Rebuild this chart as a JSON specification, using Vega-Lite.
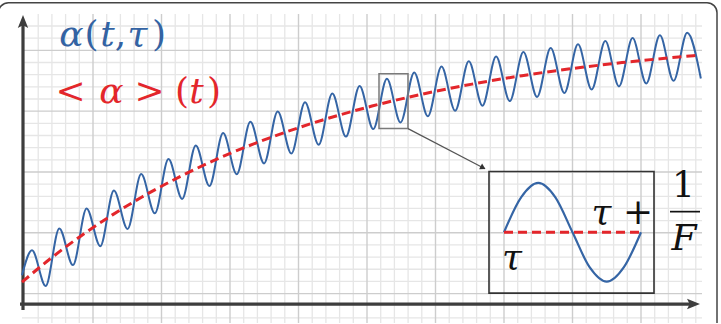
{
  "$schema": "https://vega.github.io/schema/vega-lite/v6.json",
  "width": 721,
  "height": 324,
  "autosize": {"type": "fit", "contains": "padding"},
  "padding": 0,
  "background": "white",
  "config": {"view": {"stroke": null}},
  "datasets": {
    "vminor": [{"t":16.2},{"t":29.9},{"t":43.6},{"t":57.3},{"t":84.7},{"t":98.4},{"t":112.1},{"t":125.8},{"t":153.2},{"t":166.9},{"t":180.6},{"t":194.3},{"t":221.7},{"t":235.4},{"t":249.1},{"t":262.8},{"t":290.2},{"t":303.9},{"t":317.6},{"t":331.3},{"t":358.7},{"t":372.4},{"t":386.1},{"t":399.8},{"t":427.2},{"t":440.9},{"t":454.6},{"t":468.3},{"t":495.7},{"t":509.4},{"t":523.1},{"t":536.8},{"t":564.2},{"t":577.9},{"t":591.6},{"t":605.3},{"t":632.7},{"t":646.4},{"t":660.1},{"t":673.8}],
    "vmajor": [{"t":71},{"t":139.5},{"t":208},{"t":276.5},{"t":345},{"t":413.5},{"t":482},{"t":550.5},{"t":619}],
    "hminor": [{"a":-13.9},{"a":22.7},{"a":34.9},{"a":47.1},{"a":59.3},{"a":83.7},{"a":95.9},{"a":108.1},{"a":120.3},{"a":144.7},{"a":156.9},{"a":169.1},{"a":181.3},{"a":205.7},{"a":217.9},{"a":230.1},{"a":242.3},{"a":266.7},{"a":278.9}],
    "hmajor": [{"a":10.5},{"a":71.5},{"a":132.5},{"a":193.5},{"a":254.5}],
    "axes": [{"t":1,"t2":1,"a":-6,"a2":281},{"t":-2,"t2":672,"a":0,"a2":0}],
    "uparrow": [{"t":1,"a":283.5}],
    "rightarrow": [{"t":671.5,"a":0}],
    "frame": [{"t":-23.5,"t2":695,"a":-40,"a2":302.3}],
    "wave": [{"t":0,"a":29},{"t":10,"a":54.0},{"t":23.65,"a":18.2},{"t":37.3,"a":75.9},{"t":50.95,"a":39.1},{"t":64.6,"a":95.8},{"t":78.25,"a":58.1},{"t":91.9,"a":113.9},{"t":105.55,"a":75.4},{"t":119.2,"a":130.4},{"t":132.85,"a":91.1},{"t":146.5,"a":145.4},{"t":160.15,"a":105.4},{"t":173.8,"a":159.1},{"t":187.45,"a":118.5},{"t":201.1,"a":171.5},{"t":214.75,"a":130.3},{"t":228.4,"a":182.9},{"t":242.05,"a":141.1},{"t":255.7,"a":193.2},{"t":269.35,"a":151.0},{"t":283,"a":202.5},{"t":296.65,"a":159.9},{"t":310.3,"a":211.1},{"t":323.95,"a":168.0},{"t":337.6,"a":218.8},{"t":351.25,"a":175.5},{"t":364.9,"a":225.9},{"t":378.55,"a":182.2},{"t":392.2,"a":232.3},{"t":405.85,"a":188.3},{"t":419.5,"a":238.2},{"t":433.15,"a":193.9},{"t":446.8,"a":243.5},{"t":460.45,"a":199.0},{"t":474.1,"a":248.4},{"t":487.75,"a":203.6},{"t":501.4,"a":252.8},{"t":515.05,"a":207.8},{"t":528.7,"a":256.8},{"t":542.35,"a":211.7},{"t":556,"a":260.5},{"t":569.65,"a":215.2},{"t":583.3,"a":263.8},{"t":596.95,"a":218.3},{"t":610.6,"a":266.8},{"t":624.25,"a":221.2},{"t":637.9,"a":269.6},{"t":651.55,"a":223.9},{"t":665.2,"a":272.1},{"t":678.85,"a":226.3}],
    "mean": [{"t":0,"a":22},{"t":30,"a":46.8},{"t":60,"a":69.1},{"t":90,"a":89.2},{"t":120,"a":107.4},{"t":160,"a":128.8},{"t":200,"a":147.6},{"t":250,"a":167.6},{"t":300,"a":184.4},{"t":350,"a":198.6},{"t":400,"a":210.5},{"t":450,"a":220.6},{"t":500,"a":229.1},{"t":550,"a":236.2},{"t":600,"a":242.2},{"t":650,"a":247.2},{"t":676,"a":249.5}],
    "zoombox": [{"t":357,"t2":386,"a":176,"a2":231}],
    "connector": [{"t":386,"t2":463,"a":176,"a2":135.7}],
    "connhead": [{"t":461,"a":136.8}],
    "insetbox": [{"t":467,"t2":632,"a":11,"a2":133}],
    "insetwave": [{"t":482,"a":72},{"t":499.1,"a":107},{"t":516.25,"a":121.5},{"t":533.4,"a":107},{"t":550.5,"a":72},{"t":567.6,"a":37},{"t":584.75,"a":22.5},{"t":601.9,"a":37},{"t":619,"a":72}],
    "insetmean": [{"t":482,"t2":619,"a":72}],
    "fracbar": [{"t":648,"t2":678,"a":92.7}],
    "italic": [{"label":"α","t":49.5,"a":259,"series":"wave"},{"label":"t","t":85.5,"a":259,"series":"wave"},{"label":"τ","t":115.5,"a":259,"series":"wave"},{"label":"α","t":89.5,"a":202,"series":"mean"},{"label":"t","t":174.5,"a":202,"series":"mean"},{"label":"τ","t":490,"a":35,"series":"inset"},{"label":"τ","t":579.5,"a":80,"series":"inset"},{"label":"F","t":662,"a":54,"series":"inset"}],
    "upright": [{"label":"(","t":69.5,"a":259,"series":"wave"},{"label":",","t":98.5,"a":259,"series":"wave"},{"label":")","t":137,"a":259,"series":"wave"},{"label":"<","t":48.5,"a":202,"series":"mean"},{"label":">","t":127.5,"a":202,"series":"mean"},{"label":"(","t":160,"a":202,"series":"mean"},{"label":")","t":192,"a":202,"series":"mean"},{"label":"+","t":616,"a":80,"series":"inset"},{"label":"1","t":661.5,"a":107,"series":"inset"}]
  },
  "layer": [
    {"data": {"name": "vminor"}, "mark": {"type": "rule", "stroke": "#e6e6e6", "strokeWidth": 1.3},
     "encoding": {
       "x": {"field": "t", "type": "quantitative", "scale": {"domain": [-22, 699], "nice": false, "zero": false}, "axis": null},
       "y": {"datum": -19, "type": "quantitative", "scale": {"domain": [-19, 305], "nice": false, "zero": false}, "axis": null},
       "y2": {"datum": 291}}},
    {"data": {"name": "hminor"}, "mark": {"type": "rule", "stroke": "#e6e6e6", "strokeWidth": 1.3},
     "encoding": {
       "x": {"datum": 0, "type": "quantitative", "axis": null},
       "x2": {"datum": 680},
       "y": {"field": "a", "type": "quantitative", "axis": null}}},
    {"data": {"name": "vmajor"}, "mark": {"type": "rule", "stroke": "#cdcdcd", "strokeWidth": 1.4},
     "encoding": {
       "x": {"field": "t", "type": "quantitative", "axis": null},
       "y": {"datum": -19, "type": "quantitative", "axis": null},
       "y2": {"datum": 291}}},
    {"data": {"name": "hmajor"}, "mark": {"type": "rule", "stroke": "#cdcdcd", "strokeWidth": 1.4},
     "encoding": {
       "x": {"datum": 0, "type": "quantitative", "axis": null},
       "x2": {"datum": 680},
       "y": {"field": "a", "type": "quantitative", "axis": null}}},
    {"data": {"name": "frame"}, "mark": {"type": "rect", "fillOpacity": 0, "stroke": "#444444", "strokeWidth": 1.5, "cornerRadius": 10, "clip": true},
     "encoding": {"x": {"field": "t", "type": "quantitative", "axis": null}, "x2": {"field": "t2"}, "y": {"field": "a", "type": "quantitative", "axis": null}, "y2": {"field": "a2"}}},
    {"data": {"name": "axes"}, "mark": {"type": "rule", "stroke": "#3d3d3d", "strokeWidth": 3.2},
     "encoding": {"x": {"field": "t", "type": "quantitative", "axis": null}, "x2": {"field": "t2"}, "y": {"field": "a", "type": "quantitative", "axis": null}, "y2": {"field": "a2"}}},
    {"data": {"name": "uparrow"}, "mark": {"type": "point", "shape": "M0,-1L0.8,1L0,0.6L-0.8,1Z", "size": 169, "filled": true, "color": "#3d3d3d", "opacity": 1},
     "encoding": {"x": {"field": "t", "type": "quantitative", "axis": null}, "y": {"field": "a", "type": "quantitative", "axis": null}}},
    {"data": {"name": "rightarrow"}, "mark": {"type": "point", "shape": "M1,0L-1,0.8L-0.6,0L-1,-0.8Z", "size": 169, "filled": true, "color": "#3d3d3d", "opacity": 1},
     "encoding": {"x": {"field": "t", "type": "quantitative", "axis": null}, "y": {"field": "a", "type": "quantitative", "axis": null}}},
    {"data": {"name": "wave"}, "mark": {"type": "line", "interpolate": "monotone", "stroke": "#3565a5", "strokeWidth": 2},
     "encoding": {"x": {"field": "t", "type": "quantitative", "axis": null}, "y": {"field": "a", "type": "quantitative", "axis": null}}},
    {"data": {"name": "mean"}, "mark": {"type": "line", "interpolate": "monotone", "stroke": "#e3262b", "strokeWidth": 3, "strokeDash": [9, 5]},
     "encoding": {"x": {"field": "t", "type": "quantitative", "axis": null}, "y": {"field": "a", "type": "quantitative", "axis": null}}},
    {"data": {"name": "zoombox"}, "mark": {"type": "rect", "fillOpacity": 0, "stroke": "#7a7a7a", "strokeWidth": 1.5},
     "encoding": {"x": {"field": "t", "type": "quantitative", "axis": null}, "x2": {"field": "t2"}, "y": {"field": "a", "type": "quantitative", "axis": null}, "y2": {"field": "a2"}}},
    {"data": {"name": "connector"}, "mark": {"type": "rule", "stroke": "#555555", "strokeWidth": 1.2},
     "encoding": {"x": {"field": "t", "type": "quantitative", "axis": null}, "x2": {"field": "t2"}, "y": {"field": "a", "type": "quantitative", "axis": null}, "y2": {"field": "a2"}}},
    {"data": {"name": "connhead"}, "mark": {"type": "point", "shape": "triangle-right", "size": 40, "angle": 28, "filled": true, "color": "#333333", "opacity": 1},
     "encoding": {"x": {"field": "t", "type": "quantitative", "axis": null}, "y": {"field": "a", "type": "quantitative", "axis": null}}},
    {"data": {"name": "insetbox"}, "mark": {"type": "rect", "fillOpacity": 0, "stroke": "#333333", "strokeWidth": 1.6},
     "encoding": {"x": {"field": "t", "type": "quantitative", "axis": null}, "x2": {"field": "t2"}, "y": {"field": "a", "type": "quantitative", "axis": null}, "y2": {"field": "a2"}}},
    {"data": {"name": "insetwave"}, "mark": {"type": "line", "interpolate": "monotone", "stroke": "#3565a5", "strokeWidth": 2.2},
     "encoding": {"x": {"field": "t", "type": "quantitative", "axis": null}, "y": {"field": "a", "type": "quantitative", "axis": null}}},
    {"data": {"name": "insetmean"}, "mark": {"type": "rule", "stroke": "#e3262b", "strokeWidth": 3, "strokeDash": [9, 5]},
     "encoding": {"x": {"field": "t", "type": "quantitative", "axis": null}, "x2": {"field": "t2"}, "y": {"field": "a", "type": "quantitative", "axis": null}}},
    {"data": {"name": "fracbar"}, "mark": {"type": "rule", "stroke": "#111111", "strokeWidth": 1.7},
     "encoding": {"x": {"field": "t", "type": "quantitative", "axis": null}, "x2": {"field": "t2"}, "y": {"field": "a", "type": "quantitative", "axis": null}}},
    {"data": {"name": "italic"}, "mark": {"type": "text", "font": "DejaVu Serif", "fontStyle": "italic", "fontSize": 36, "align": "center", "baseline": "alphabetic"},
     "encoding": {"x": {"field": "t", "type": "quantitative", "axis": null}, "y": {"field": "a", "type": "quantitative", "axis": null}, "text": {"field": "label"}, "color": {"field": "series", "type": "nominal", "scale": {"domain": ["wave", "mean", "inset"], "range": ["#3363a3", "#e3262b", "#111111"]}, "legend": null}}},
    {"data": {"name": "upright"}, "mark": {"type": "text", "font": "DejaVu Serif", "fontSize": 36, "align": "center", "baseline": "alphabetic"},
     "encoding": {"x": {"field": "t", "type": "quantitative", "axis": null}, "y": {"field": "a", "type": "quantitative", "axis": null}, "text": {"field": "label"}, "color": {"field": "series", "type": "nominal", "scale": {"domain": ["wave", "mean", "inset"], "range": ["#3363a3", "#e3262b", "#111111"]}, "legend": null}}}
  ]
}
